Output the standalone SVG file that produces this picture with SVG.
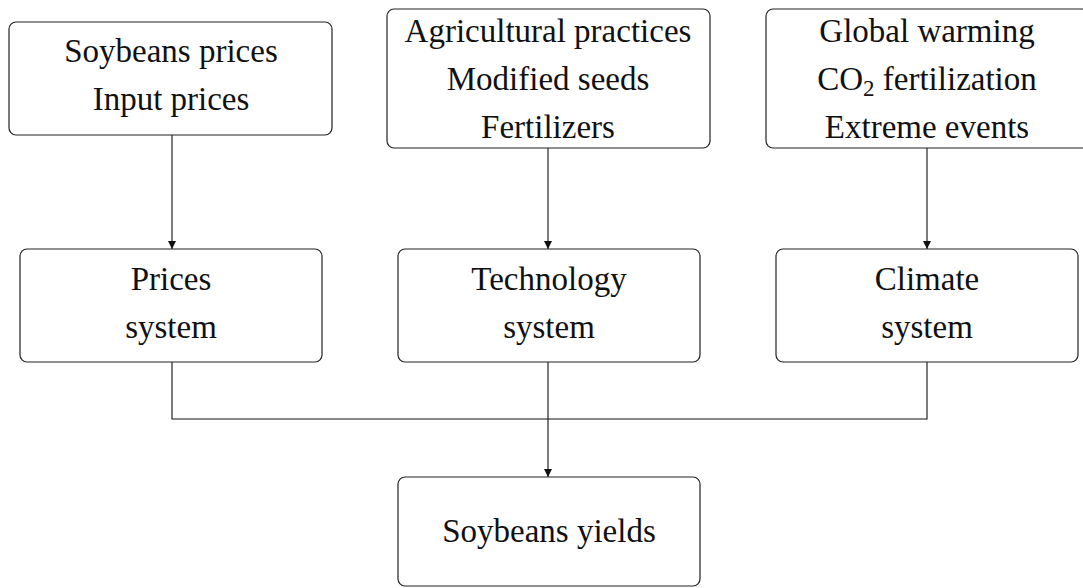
<svg xmlns="http://www.w3.org/2000/svg" width="1083" height="588" viewBox="0 0 1083 588">
<style>
.box{fill:#fff;stroke:#222;stroke-width:1.2}
.t{font-family:'Liberation Serif',serif;font-size:33px;fill:#111;text-anchor:middle}
.c{fill:none;stroke:#111;stroke-width:1.1}
</style>
<defs>
<marker id="ah" viewBox="0 0 10 10" refX="10" refY="5" markerWidth="8" markerHeight="8" markerUnits="userSpaceOnUse" orient="auto">
<path d="M0,0 L10,5 L0,10 Z" fill="#111"/>
</marker>
</defs>
<rect width="1083" height="588" fill="#fff"/>
<g id="connectors">
<path class="c" d="M172,135 V249" marker-end="url(#ah)"/>
<path class="c" d="M548,148 V249" marker-end="url(#ah)"/>
<path class="c" d="M927,148 V249" marker-end="url(#ah)"/>
<path class="c" d="M172,362 V419 H927 V362"/>
<path class="c" d="M548,362 V477" marker-end="url(#ah)"/>
</g>
<g id="inputs-prices">
<rect class="box" x="9" y="22" width="323" height="113" rx="7"/>
<text class="t" x="171" y="62">Soybeans prices</text>
<text class="t" x="171" y="110">Input prices</text>
</g>
<g id="inputs-technology">
<rect class="box" x="387" y="9" width="323" height="139" rx="7"/>
<text class="t" x="548" y="42">Agricultural practices</text>
<text class="t" x="548" y="90">Modified seeds</text>
<text class="t" x="548" y="138">Fertilizers</text>
</g>
<g id="inputs-climate">
<rect class="box" x="766" y="9" width="323" height="139" rx="7"/>
<text class="t" x="927" y="42">Global warming</text>
<text class="t" x="927" y="90">CO<tspan font-size="23" dy="6">2</tspan><tspan dy="-6"> fertilization</tspan></text>
<text class="t" x="927" y="138">Extreme events</text>
</g>
<g id="prices-system">
<rect class="box" x="20" y="249" width="302" height="113" rx="7"/>
<text class="t" x="171" y="290">Prices</text>
<text class="t" x="171" y="338">system</text>
</g>
<g id="technology-system">
<rect class="box" x="398" y="249" width="302" height="113" rx="7"/>
<text class="t" x="549" y="290">Technology</text>
<text class="t" x="549" y="338">system</text>
</g>
<g id="climate-system">
<rect class="box" x="776" y="249" width="302" height="113" rx="7"/>
<text class="t" x="927" y="290">Climate</text>
<text class="t" x="927" y="338">system</text>
</g>
<g id="soybeans-yields">
<rect class="box" x="398" y="477" width="302" height="109" rx="7"/>
<text class="t" x="549" y="542">Soybeans yields</text>
</g>
</svg>
